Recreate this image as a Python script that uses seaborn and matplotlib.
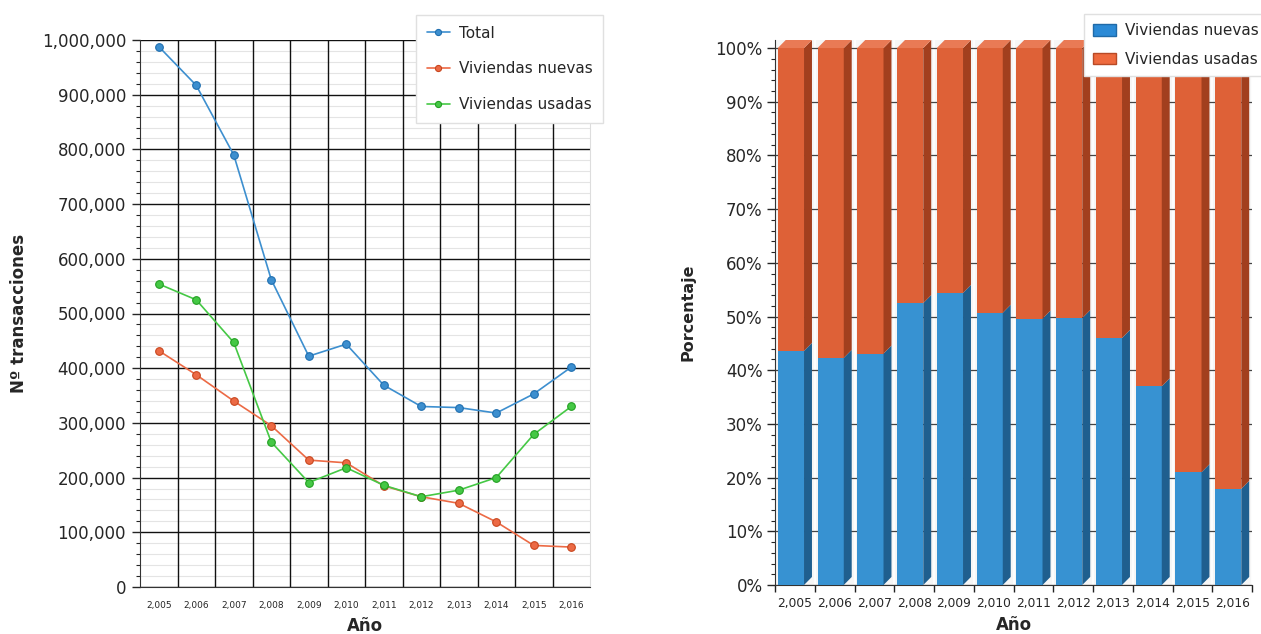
import numpy as np
import pandas as pd
import matplotlib
matplotlib.use("Agg")
import matplotlib.pyplot as plt
import seaborn as sns
from matplotlib.ticker import FuncFormatter, MultipleLocator, FixedLocator
from matplotlib.patches import Polygon
from matplotlib.patches import Patch

# ---------------- data ----------------
years = [2005, 2006, 2007, 2008, 2009, 2010, 2011, 2012, 2013, 2014, 2015, 2016]
year_labels = ["2,005", "2,006", "2,007", "2,008", "2,009", "2,010",
               "2,011", "2,012", "2,013", "2,014", "2,015", "2,016"]
total = [988000, 917000, 790000, 562000, 422000, 444000, 369000, 330000, 328000, 318000, 353000, 402000]
nuevas = [432000, 388000, 340000, 295000, 232000, 227000, 185000, 165000, 153000, 119000, 76000, 73000]
usadas = [554000, 525000, 447000, 265000, 191000, 218000, 186000, 165000, 177000, 200000, 279000, 330000]
pct_nuevas = [43.6, 42.3, 43.1, 52.5, 54.4, 50.7, 49.6, 49.7, 46.0, 37.0, 21.0, 17.9]
pct_usadas = [100 - p for p in pct_nuevas]
series_names = ["Total", "Viviendas nuevas", "Viviendas usadas"]

sns.set_style("white")
plt.rcParams["font.family"] = ["DejaVu Sans"]

W, H = 1261, 634
fig = plt.figure(figsize=(W / 100, H / 100), dpi=100)

# ---------------- left: line chart ----------------
ax1 = fig.add_axes([140 / W, 47 / H, 450 / W, 547 / H])
line_colors = ["#3D8FCF", "#EC6A45", "#45C845"]
edge_colors = ["#1F6FB0", "#C8461E", "#22A022"]
for name, vals, c, ec in zip(series_names, [total, nuevas, usadas], line_colors, edge_colors):
    df = pd.DataFrame({"Año": years, "valor": vals})
    sns.lineplot(data=df, x="Año", y="valor", ax=ax1, color=c, linewidth=1.2,
                 marker="o", markersize=5.5, markeredgecolor=ec, markeredgewidth=0.8,
                 label=name, zorder=5)

ax1.set_xlim(years[0] - 0.5, years[-1] + 0.5)
ax1.set_ylim(0, 1000000)
bounds = [y - 0.5 for y in years] + [years[-1] + 0.5]
ax1.xaxis.set_major_locator(FixedLocator(bounds))
ax1.xaxis.set_major_formatter(FuncFormatter(lambda v, p: ""))
ax1.set_xticks(years, year_labels, minor=True)
ax1.tick_params(axis="x", which="minor", length=0, labelsize=6.5, pad=10)
ax1.tick_params(axis="x", which="major", length=5, width=1, color="#222222", direction="out")
ax1.yaxis.set_major_locator(MultipleLocator(100000))
ax1.yaxis.set_minor_locator(MultipleLocator(20000))
ax1.yaxis.set_major_formatter(FuncFormatter(lambda v, p: f"{int(v):,}"))
ax1.tick_params(axis="y", which="major", length=6, width=1, labelsize=12, pad=4, left=True)
ax1.tick_params(axis="y", which="minor", length=3, width=0.8, left=True)
ax1.grid(True, which="minor", axis="y", color="#E4E4E4", linewidth=0.8, zorder=0)
ax1.grid(True, which="major", axis="y", color="#111111", linewidth=1.0, zorder=1)
ax1.vlines(bounds[1:-1], 0, 1, transform=ax1.get_xaxis_transform(),
           colors="#111111", linewidth=1.0, zorder=2)
ax1.set_axisbelow(True)
for s in ["left", "bottom"]:
    ax1.spines[s].set_color("#333333")
ax1.spines["top"].set_visible(False)
ax1.spines["right"].set_color("#DDDDDD")
ax1.set_xlabel("Año", fontsize=12, fontweight="bold", labelpad=5)
ax1.set_ylabel("Nº transacciones", fontsize=12, fontweight="bold", labelpad=10)
leg1 = ax1.legend(loc="upper left", bbox_to_anchor=(416 / W, 1 - 15 / H),
                  bbox_transform=fig.transFigure, frameon=True, fancybox=False,
                  shadow=False, edgecolor="#E0E0E0", framealpha=1, fontsize=11,
                  labelspacing=1.35, handlelength=1.5, handletextpad=0.6,
                  borderpad=0.7, borderaxespad=0, markerscale=0.8)
leg1.get_frame().set_linewidth(1.0)
leg1.set_zorder(10)

# ---------------- right: 100% stacked bars ----------------
ax2 = fig.add_axes([775 / W, 49 / H, 477 / W, 545 / H])
ax2.set_facecolor("#F6F6F6")
blue_front, blue_side = "#3792D2", "#1F5F8F"
orng_front, orng_side, orng_top = "#DE6137", "#A23F1E", "#E97A55"
totals = [n + u for n, u in zip(pct_nuevas, pct_usadas)]
bw = 0.66
sns.barplot(x=year_labels, y=totals, color=orng_front, width=bw, saturation=1,
            ax=ax2, zorder=3, linewidth=0)
sns.barplot(x=year_labels, y=pct_nuevas, color=blue_front, width=bw, saturation=1,
            ax=ax2, zorder=3, linewidth=0)
shift = 0.1
for p in ax2.patches:
    p.set_x(p.get_x() - shift)
d, dy = 0.2, 1.5
for i, (n, t) in enumerate(zip(pct_nuevas, totals)):
    xl = i - shift - bw / 2
    xr = i - shift + bw / 2
    ax2.add_patch(Polygon([(xr, 0), (xr + d, dy), (xr + d, n + dy), (xr, n)],
                          closed=True, facecolor=blue_side, edgecolor="none", zorder=3))
    ax2.add_patch(Polygon([(xr, n), (xr + d, n + dy), (xr + d, t + dy), (xr, t)],
                          closed=True, facecolor=orng_side, edgecolor="none", zorder=3))
    ax2.add_patch(Polygon([(xl, t), (xr, t), (xr + d, t + dy), (xl + d, t + dy)],
                          closed=True, facecolor=orng_top, edgecolor="none", zorder=3))

ax2.set_xlim(-0.5, 11.5)
ax2.set_ylim(0, 101.5)
ax2.xaxis.set_major_locator(FixedLocator([i - 0.5 for i in range(13)]))
ax2.xaxis.set_major_formatter(FuncFormatter(lambda v, p: ""))
ax2.set_xticks(range(12), year_labels, minor=True)
ax2.tick_params(axis="x", which="minor", length=0, labelsize=8.8, pad=9)
ax2.tick_params(axis="x", which="major", length=5, width=1, color="#222222", bottom=True)
ax2.yaxis.set_major_locator(FixedLocator(list(range(0, 101, 10))))
ax2.yaxis.set_minor_locator(FixedLocator(list(range(0, 101, 2))))
ax2.yaxis.set_major_formatter(FuncFormatter(lambda v, p: f"{int(v)}%"))
ax2.tick_params(axis="y", which="major", length=6, width=1, labelsize=12, pad=3, left=True)
ax2.tick_params(axis="y", which="minor", length=3, width=0.8, left=True)
ax2.grid(True, which="major", axis="y", color="#444444", linewidth=0.9, zorder=0)
ax2.grid(True, which="major", axis="x", color="#FFFFFF", linewidth=1.2, zorder=0)
ax2.set_axisbelow(True)
ax2.spines["left"].set_color("#333333")
ax2.spines["bottom"].set_color("#333333")
ax2.spines["top"].set_visible(False)
ax2.spines["right"].set_visible(False)
ax2.set_xlabel("Año", fontsize=12, fontweight="bold", labelpad=4)
ax2.set_ylabel("Porcentaje", fontsize=11.5, fontweight="bold", labelpad=14)
handles2 = [Patch(facecolor="#2B8AD6", edgecolor="#1F6AA8"),
            Patch(facecolor="#EE6A3E", edgecolor="#B84A26")]
leg2 = ax2.legend(handles2, ["Viviendas nuevas", "Viviendas usadas"], loc="upper left",
                  bbox_to_anchor=(1084 / W, 1 - 14 / H), bbox_transform=fig.transFigure,
                  frameon=True, fancybox=False, edgecolor="#E0E0E0", framealpha=1,
                  fontsize=11, labelspacing=0.9, handlelength=1.5, handleheight=0.8,
                  handletextpad=0.6, borderpad=0.6, borderaxespad=0)
leg2.set_zorder(10)

fig.savefig("out.png", dpi=100)
